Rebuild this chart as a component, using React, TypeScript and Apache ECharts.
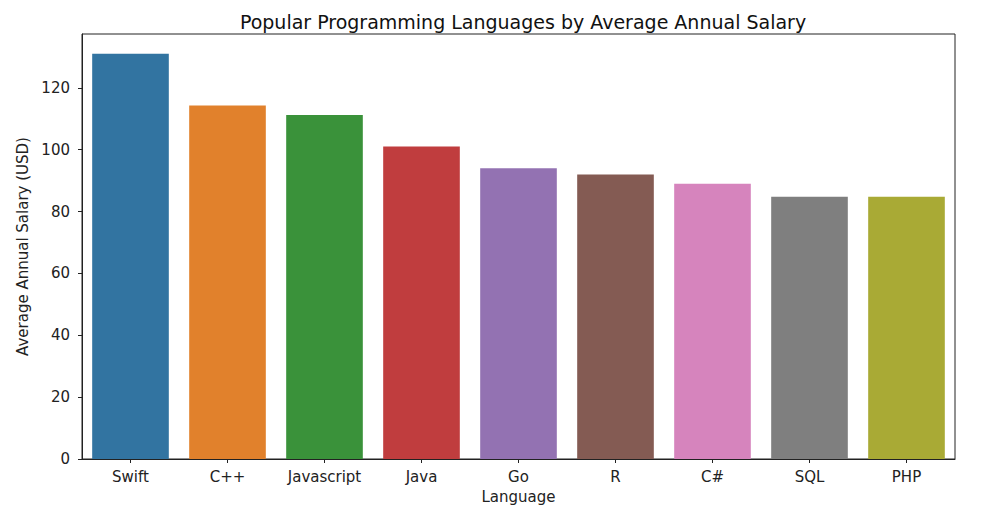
import React, { useEffect, useRef } from "react";
import * as echarts from "echarts";

const languages = ["Swift", "C++", "Javascript", "Java", "Go", "R", "C#", "SQL", "PHP"];
const salaries = [131, 114.3, 111.2, 101, 94, 92, 89, 84.8, 84.8];
const barColors = ["#3274a1", "#e1812c", "#3a923a", "#c03d3e", "#9372b2", "#845b53", "#d684bd", "#7f7f7f", "#a9aa35"];
const yTicks = [0, 20, 40, 60, 80, 100, 120];

export default function App() {
  const ref = useRef<HTMLDivElement>(null);
  useEffect(() => {
    if (!ref.current) return;
    const chart = echarts.init(ref.current, null, { renderer: "svg" });
    const font = "DejaVu Sans";
    chart.setOption({
      animation: false,
      backgroundColor: "#ffffff",
      title: {
        text: "Popular Programming Languages by Average Annual Salary",
        left: 518,
        top: 7,
        textAlign: "center",
        textStyle: { fontFamily: font, fontSize: 19, fontWeight: "normal", color: "#111" },
      },
      grid: {
        left: 82,
        right: 27,
        top: 34,
        bottom: 59,
        show: true,
        borderColor: "#222",
        borderWidth: 1,
        backgroundColor: "transparent",
      },
      xAxis: {
        type: "category",
        data: languages,
        name: "Language",
        nameLocation: "middle",
        nameGap: 30,
        nameTextStyle: { fontFamily: font, fontSize: 15, color: "#222" },
        axisLine: { show: true, lineStyle: { color: "#222", width: 1 } },
        axisTick: { show: true, alignWithLabel: true, length: 4, lineStyle: { color: "#222" } },
        axisLabel: { fontFamily: font, fontSize: 15, color: "#222", margin: 10 },
      },
      yAxis: {
        type: "value",
        min: 0,
        max: 137.4,
        interval: 20,
        name: "Average Annual Salary (USD)",
        nameLocation: "middle",
        nameGap: 50,
        nameTextStyle: { fontFamily: font, fontSize: 15, color: "#222" },
        axisLine: { show: true, lineStyle: { color: "#222", width: 1 } },
        axisTick: { show: true, length: 4, lineStyle: { color: "#222" } },
        splitLine: { show: false },
        axisLabel: {
          fontFamily: font,
          fontSize: 15,
          color: "#222",
          margin: 12,
          showMaxLabel: false,
          formatter: (v: number) => (yTicks.includes(v) ? String(v) : ""),
        },
      },
      series: [
        {
          type: "bar",
          barCategoryGap: "21%",
          data: salaries.map((v, i) => ({ value: v, itemStyle: { color: barColors[i] } })),
        },
      ],
    });
    return () => chart.dispose();
  }, []);
  return <div ref={ref} style={{ position: "fixed", left: 0, top: 0, width: 982, height: 518 }} />;
}
